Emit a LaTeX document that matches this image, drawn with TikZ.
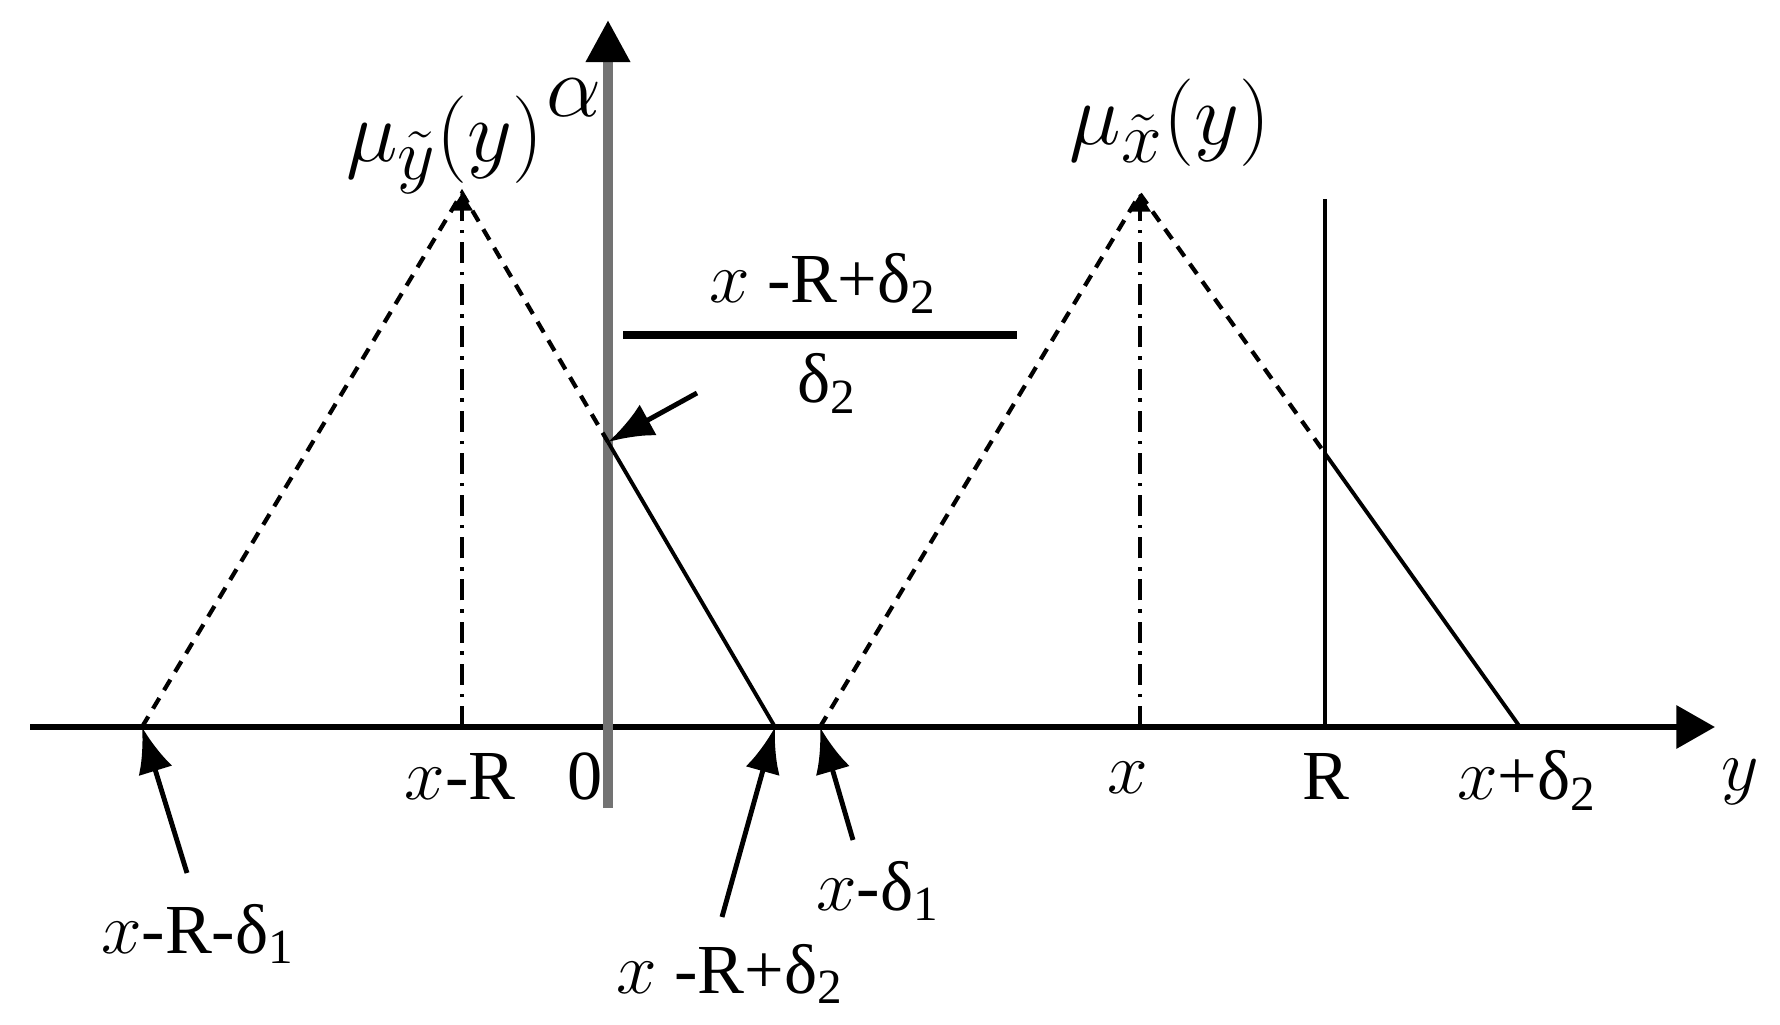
\documentclass[tikz,border=0pt]{standalone}
\usepackage{fontspec}
\setmainfont{Liberation Serif}
\usepackage{amsmath}
\usetikzlibrary{arrows.meta}
\newcommand{\done}{δ\textsubscript{1}}
\newcommand{\dtwo}{δ\textsubscript{2}}
\tikzset{
axis y/.style = { draw = black, line width = 1.7pt, -{Triangle[length = 11pt, width = 12pt]} },
axis alpha/.style = { draw = black!55, line width = 2.8pt, -{Triangle[length = 12pt, width = 12pt, color = black, fill = black]} },
membership/.style = { draw = black, line width = 1.2pt, dash pattern = on 3.5pt off 2.6pt },
membership cut/.style = { draw = black, line width = 1.1pt },
centre line/.style = { draw = black, line width = 0.9pt, dash pattern = on 6pt off 2.5pt on 1pt off 2.5pt, -{Triangle[length = 5pt, width = 6pt]} },
bound line/.style = { draw = black, line width = 1.1pt },
pointer/.style = { draw = black, line width = 1.4pt, -{Latex[length = 13pt, width = 10pt]} },
lbl/.style = { font = \fontsize{20}{24}\selectfont, inner sep = 0pt },
mu lbl/.style = { font = \fontsize{29}{34}\selectfont, inner sep = 0pt },
}

\begin{document}
\begin{tikzpicture}
      \useasboundingbox (0, 0) rectangle (17.8, 10.24);
      % axes
      \coordinate (h0) at (0.30, 2.97);
      \coordinate (h1) at (17.15, 2.97);
      \coordinate (v0) at (6.08, 2.16);
      \coordinate (v1) at (6.08, 10.04);
      \path[axis y] (h0) -- (h1);
      \path[axis alpha] (v0) -- (v1);
      % left membership function
      \coordinate (ltop) at (4.62, 8.31);
      \coordinate (lbot) at (4.62, 2.97);
      \coordinate (lleft) at (1.42, 2.97);
      \coordinate (lright) at (7.75, 2.97);
      \coordinate (lcut) at (intersection of ltop--lright and v0--v1);
      \path[membership] (lleft) -- (ltop) -- (lcut);
      \path[membership cut] (lcut) -- (lright);
      \path[centre line] (lbot) -- (ltop);
      % right membership function
      \coordinate (rtop) at (11.40, 8.30);
      \coordinate (rbot) at (11.40, 2.97);
      \coordinate (rleft) at (8.20, 2.97);
      \coordinate (rright) at (15.20, 2.97);
      \coordinate (Rtop) at (13.25, 8.25);
      \coordinate (Rbot) at (13.25, 2.97);
      \coordinate (rcut) at (intersection of rtop--rright and Rtop--Rbot);
      \path[membership] (rleft) -- (rtop) -- (rcut);
      \path[membership cut] (rcut) -- (rright);
      \path[centre line] (rbot) -- (rtop);
      \path[bound line] (Rbot) -- (Rtop);
      % labels
      \node[mu lbl, anchor = base] (muy) at (4.45, 8.62) {$\mu_{\tilde{y}}(y)$};
      \node[mu lbl, anchor = base] (mux) at (11.70, 8.79) {$\mu_{\tilde{x}}(y)$};
      \node[mu lbl, anchor = base, font = \fontsize{26}{30}\selectfont] (alpha) at (5.74, 9.07) {$\alpha$};
      \node[lbl, anchor = base] (xr) at (4.60, 2.24) {$x$-R};
      \node[lbl, anchor = base] (zero) at (5.85, 2.24) {0};
      \node[lbl, anchor = base] (xx) at (11.28, 2.30) {$x$};
      \node[lbl, anchor = base] (rr) at (13.26, 2.24) {R};
      \node[lbl, anchor = base] (xd) at (15.27, 2.24) {$x$+\dtwo};
      \node[lbl, anchor = base] (yy) at (17.40, 2.34) {$y$};
      % fraction
      \node[lbl, anchor = base] (num) at (8.23, 7.21) {$x$ -R+\dtwo};
      \node[lbl, anchor = base] (den) at (8.27, 6.21) {\dtwo};
      \coordinate (fl) at (6.23, 6.89);
      \coordinate (fr) at (10.17, 6.89);
      \path[draw = black, line width = 2.2pt] (fl) -- (fr);
      \coordinate (fp) at (6.97, 6.31);
      \path[pointer] (fp) -- (lcut);
      % lower labels
      \node[lbl, anchor = base] (lab1) at (1.98, 0.71) {$x$-R-\done};
      \node[lbl, anchor = base] (lab2) at (7.30, 0.31) {$x$ -R+\dtwo};
      \node[lbl, anchor = base] (lab3) at (8.78, 1.14) {$x$-\done};
      \coordinate (t1) at (1.87, 1.51);
      \coordinate (t2) at (7.22, 1.07);
      \coordinate (t3) at (8.53, 1.84);
      \path[pointer] (t1) -- (lleft);
      \path[pointer] (t2) -- (lright);
      \path[pointer] (t3) -- (rleft);
\end{tikzpicture}
\end{document}
